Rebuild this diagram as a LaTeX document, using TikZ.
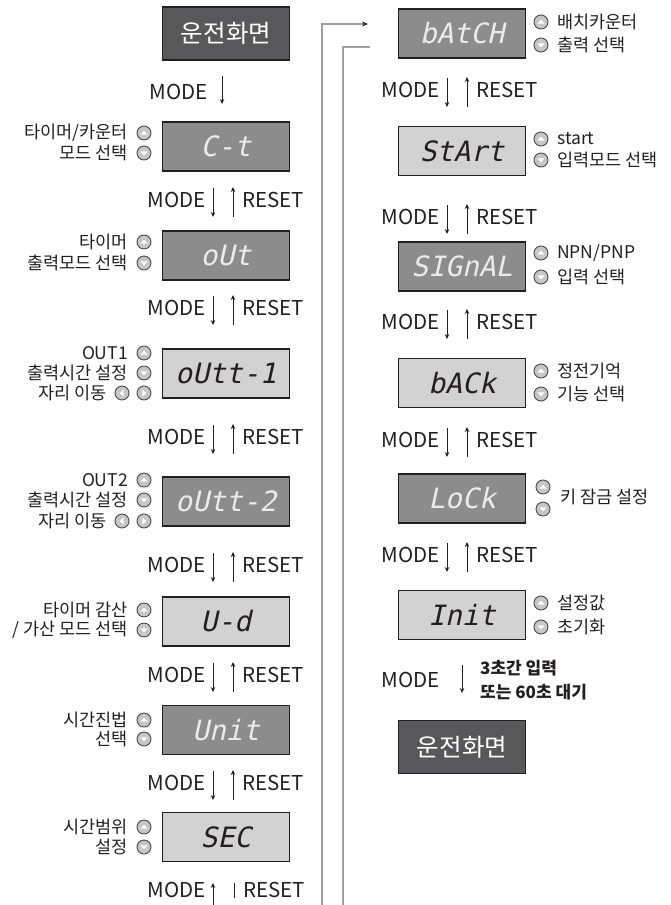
\documentclass[tikz,border=0pt]{standalone}
\usepackage{fontspec}
\setmainfont{Noto Sans CJK KR}
\newfontfamily\segfont[FakeSlant=0.22]{DejaVu Sans Mono}
\usetikzlibrary{arrows.meta}
\definecolor{ink}{HTML}{231F20}
\definecolor{startfill}{HTML}{58585A}
\definecolor{darkseg}{HTML}{8C8C8C}
\definecolor{lightseg}{HTML}{D2D2D2}
\definecolor{wire}{HTML}{A39E9E}
\definecolor{btnfill}{HTML}{C6C6C6}
\definecolor{btnedge}{HTML}{4A4A4A}
\tikzset{
  startbox/.style={draw=ink, line width=1.4pt, fill=startfill, text=white, minimum width=127pt, minimum height=53pt, inner sep=0pt, font=\fontsize{24.5}{28}\selectfont},
  segbase/.style={draw=ink, line width=1.4pt, minimum width=127pt, minimum height=49pt, inner sep=0pt, font=\segfont\fontsize{28}{30}\selectfont},
  segdarkbox/.style={segbase, fill=darkseg, text=white!92!black},
  seglightbox/.style={segbase, fill=lightseg, text=ink},
  lbl/.style={inner sep=0pt, text=ink, font=\fontsize{17.5}{20}\selectfont},
  modelbl/.style={inner sep=0pt, text=ink, font=\fontsize{20.5}{24}\selectfont},
  notelbl/.style={inner sep=0pt, text=ink, font=\fontsize{17}{20}\selectfont\bfseries},
  arr/.style={draw=ink, line width=1pt, -{Stealth[length=5pt,width=4.5pt]}},
  plainline/.style={draw=ink, line width=1pt},
  wireline/.style={draw=wire, line width=1.3pt},
  btn/.style={circle, draw=btnedge, line width=0.9pt, fill=btnfill, minimum size=14pt, inner sep=0pt},
  btnup/.style={btn, path picture={\fill[white] ([shift={(-3.6pt,-1.7pt)}]path picture bounding box.center) -- ++(7.2pt,0pt) -- ++(-3.6pt,4.1pt) -- cycle;}},
  btndown/.style={btn, path picture={\fill[white] ([shift={(-3.6pt,1.7pt)}]path picture bounding box.center) -- ++(7.2pt,0pt) -- ++(-3.6pt,-4.1pt) -- cycle;}},
  btnleft/.style={btn, path picture={\fill[white] ([shift={(1.7pt,-3.6pt)}]path picture bounding box.center) -- ++(0pt,7.2pt) -- ++(-4.1pt,-3.6pt) -- cycle;}},
  btnright/.style={btn, path picture={\fill[white] ([shift={(-1.7pt,-3.6pt)}]path picture bounding box.center) -- ++(0pt,7.2pt) -- ++(4.1pt,-3.6pt) -- cycle;}}
}
\newcommand\moderow[3]{%
  \node[modelbl,anchor=east] (#1-m) at (#2-7,#3) {MODE};
  \node[modelbl,anchor=west] (#1-r) at (#2+29,#3) {RESET};
  \coordinate (#1-d1) at (#2,#3-12);
  \coordinate (#1-d2) at (#2,#3+17);
  \coordinate (#1-u1) at (#2+20,#3+17);
  \coordinate (#1-u2) at (#2+20,#3-13);
  \draw[arr] (#1-d1) -- (#1-d2);
  \draw[arr] (#1-u1) -- (#1-u2);
}
\begin{document}
\begin{tikzpicture}[x=1pt,y=-1pt]
\useasboundingbox (0,0) rectangle (670,905);

% ---------- wires ----------
\coordinate (w1a) at (322,905);
\coordinate (w1b) at (322,24);
\coordinate (w1c) at (368,24);
\draw[wireline,-{Stealth[length=6pt,width=5pt,color=ink]}] (w1a) -- (w1b) -- (w1c);
\coordinate (w2a) at (370,47);
\coordinate (w2b) at (343,47);
\coordinate (w2c) at (343,905);
\draw[wireline] (w2a) -- (w2b) -- (w2c);

% ---------- left column ----------
\node[startbox] (runA) at (226,33.5) {운전화면};
\node[modelbl,anchor=east] (modeA) at (208,92) {MODE};
\coordinate (aA1) at (222,76);
\coordinate (aA2) at (222,104);
\draw[arr] (aA1) -- (aA2);

\node[segdarkbox] (ct) at (226,146.5) {C-t};
\node[lbl,anchor=east] (ctL1) at (128,133) {타이머/카운터};
\node[lbl,anchor=east] (ctL2) at (128,153) {모드 선택};
\node[btnup] (ctU) at (144,133) {};
\node[btndown] (ctD) at (144,153) {};
\moderow{r1}{213}{200}

\node[segdarkbox] (out) at (226,255.5) {oUt};
\node[lbl,anchor=east] (outL1) at (128,242) {타이머};
\node[lbl,anchor=east] (outL2) at (128,263) {출력모드 선택};
\node[btnup] (outU) at (144,242) {};
\node[btndown] (outD) at (144,263) {};
\moderow{r2}{213}{308}

\node[seglightbox] (outa) at (226,373.5) {oUtt-1};
\node[lbl,anchor=east] (outaL1) at (128,353) {OUT1};
\node[lbl,anchor=east] (outaL2) at (128,373) {출력시간 설정};
\node[lbl,anchor=east] (outaL3) at (107,393) {자리 이동};
\node[btnup] (outaU) at (144,353) {};
\node[btndown] (outaD) at (144,373) {};
\node[btnleft] (outaLf) at (122,393) {};
\node[btnright] (outaRt) at (144,393) {};
\moderow{r3}{213}{437}

\node[segdarkbox] (outb) at (226,501.5) {oUtt-2};
\node[lbl,anchor=east] (outbL1) at (128,480) {OUT2};
\node[lbl,anchor=east] (outbL2) at (128,500) {출력시간 설정};
\node[lbl,anchor=east] (outbL3) at (107,521) {자리 이동};
\node[btnup] (outbU) at (144,480) {};
\node[btndown] (outbD) at (144,500) {};
\node[btnleft] (outbLf) at (122,521) {};
\node[btnright] (outbRt) at (144,521) {};
\moderow{r4}{213}{565}

\node[seglightbox] (ud) at (226,621.5) {U-d};
\node[lbl,anchor=east] (udL1) at (128,610) {타이머 감산};
\node[lbl,anchor=east] (udL2) at (128,630) {/ 가산 모드 선택};
\node[btnup] (udU) at (144,610) {};
\node[btndown] (udD) at (144,630) {};
\moderow{r5}{213}{675}

\node[segdarkbox] (unit) at (226,730) {Unit};
\node[lbl,anchor=east] (unitL1) at (128,720) {시간진법};
\node[lbl,anchor=east] (unitL2) at (128,739) {선택};
\node[btnup] (unitU) at (144,720) {};
\node[btndown] (unitD) at (144,739) {};
\moderow{r6}{213}{783}

\node[seglightbox] (sec) at (226,837) {SEC};
\node[lbl,anchor=east] (secL1) at (128,827) {시간범위};
\node[lbl,anchor=east] (secL2) at (128,847) {설정};
\node[btnup] (secU) at (144,827) {};
\node[btndown] (secD) at (144,847) {};

\node[modelbl,anchor=east] (r7-m) at (206,890) {MODE};
\node[modelbl,anchor=west] (r7-r) at (243,890) {RESET};
\coordinate (r7-u1) at (213,906);
\coordinate (r7-u2) at (213,883);
\draw[arr] (r7-u1) -- (r7-u2);
\coordinate (r7-p1) at (234,883);
\coordinate (r7-p2) at (234,898);
\draw[plainline] (r7-p1) -- (r7-p2);

% ---------- right column ----------
\node[segdarkbox] (batch) at (462,33.5) {bAtCH};
\node[lbl,anchor=west] (batchL1) at (557,22) {배치카운터};
\node[lbl,anchor=west] (batchL2) at (557,45) {출력 선택};
\node[btnup] (batchU) at (541,22) {};
\node[btndown] (batchD) at (541,45) {};
\moderow{s1}{447}{90}

\node[seglightbox] (start) at (462,151) {StArt};
\node[lbl,anchor=west] (startL1) at (557,139) {start};
\node[lbl,anchor=west] (startL2) at (557,160) {입력모드 선택};
\node[btnup] (startU) at (541,139) {};
\node[btndown] (startD) at (541,160) {};
\moderow{s2}{447}{217}

\node[segdarkbox] (signal) at (462,266.5) {SIGnAL};
\node[lbl,anchor=west] (signalL1) at (557,253) {NPN/PNP};
\node[lbl,anchor=west] (signalL2) at (557,277) {입력 선택};
\node[btnup] (signalU) at (541,253) {};
\node[btndown] (signalD) at (541,277) {};
\moderow{s3}{447}{322}

\node[seglightbox] (back) at (462,383) {bACk};
\node[lbl,anchor=west] (backL1) at (557,371) {정전기억};
\node[lbl,anchor=west] (backL2) at (557,394) {기능 선택};
\node[btnup] (backU) at (541,371) {};
\node[btndown] (backD) at (541,394) {};
\moderow{s4}{447}{440}

\node[segdarkbox] (lock) at (462,498.5) {LoCk};
\node[lbl,anchor=west] (lockL) at (560,497) {키 잠금 설정};
\node[btnup] (lockU) at (543,487) {};
\node[btndown] (lockD) at (543,509) {};
\moderow{s5}{447}{555}

\node[seglightbox] (init) at (462,615) {Init};
\node[lbl,anchor=west] (initL1) at (557,603) {설정값};
\node[lbl,anchor=west] (initL2) at (557,627) {초기화};
\node[btnup] (initU) at (541,603) {};
\node[btndown] (initD) at (541,627) {};

\node[modelbl,anchor=east] (s6-m) at (440,680) {MODE};
\coordinate (s6-d1) at (462,665);
\coordinate (s6-d2) at (462,693);
\draw[arr] (s6-d1) -- (s6-d2);
\node[notelbl,anchor=west] (s6-n1) at (480,668) {3초간 입력};
\node[notelbl,anchor=west] (s6-n2) at (480,692) {또는 60초 대기};

\node[startbox] (runB) at (462,747) {운전화면};
\end{tikzpicture}
\end{document}
